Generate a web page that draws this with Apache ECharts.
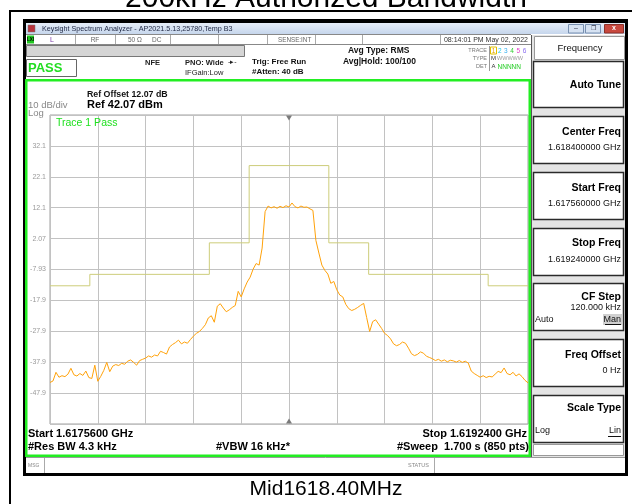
<!DOCTYPE html>
<html><head><meta charset="utf-8">
<script src="https://cdn.jsdelivr.net/npm/echarts@6/dist/echarts.min.js"></script>
<style>html,body{margin:0;padding:0;background:#fff}#c{width:632px;height:504px}</style>
</head><body><div id="c"></div>
<script>
// Frequency offsets from centre 1618.40 MHz, in kHz
const startKHz = -840, stopKHz = 840, sweepStepKHz = 10.5;
const refLevelDbm = 42.07;
const traceDbm = [
 -44.5,-44.0,-41.2,-42.8,-42.3,-42.6,-41.8,-39.9,-42.0,-42.4,
 -41.6,-42.2,-40.8,-42.9,-43.2,-38.9,-44.1,-42.5,-40.6,-38.0,
 -41.0,-39.2,-38.7,-39.0,-38.3,-38.6,-37.6,-37.2,-38.0,-38.9,
 -37.4,-37.0,-36.6,-35.9,-36.3,-35.6,-35.9,-34.4,-34.8,-35.3,
 -33.0,-32.2,-31.6,-30.8,-32.0,-31.4,-31.8,-30.6,-29.5,-28.6,
 -28.0,-27.0,-25.8,-23.6,-22.9,-25.0,-19.8,-19.0,-20.4,-21.6,
 -21.0,-20.2,-19.6,-15.0,-16.8,-14.2,-12.0,-10.4,-7.8,-6.0,
 -6.5,-1.0,10.8,12.6,12.0,12.4,11.9,12.5,12.1,12.7,
 12.3,13.6,12.4,12.0,12.6,12.2,12.3,11.7,11.2,1.5,
 -2.6,-6.5,-8.2,-9.4,-12.4,-11.8,-14.5,-16.2,-16.8,-19.2,
 -20.6,-21.2,-20.8,-20.2,-19.5,-18.9,-23.5,-28.0,-24.8,-24.2,
 -25.6,-27.0,-28.6,-29.3,-30.4,-32.0,-32.6,-32.2,-31.4,-31.8,
 -33.4,-35.2,-35.8,-35.4,-34.6,-35.0,-36.0,-36.4,-36.8,-37.4,
 -37.0,-37.6,-37.2,-37.8,-37.3,-37.5,-37.9,-37.4,-38.0,-37.6,
 -38.2,-40.8,-41.6,-42.2,-42.8,-42.3,-42.9,-42.5,-42.7,-41.8,
 -40.9,-41.3,-39.8,-41.6,-42.0,-41.2,-42.4,-41.7,-42.6,-43.8,
 -44.6];
const limitFreqKHz = [-840,-700,-280,-140,140,280,700,840];
const limitDbm = [-13.2,-9.5,0.7,25.7,0.7,-9.5,-13.2,-13.2];
const yTickLabels = ['','32.1','22.1','12.1','2.07','-7.93','-17.9','-27.9','-37.9','-47.9',''];

const FF = '"Liberation Sans", Arial, sans-serif';
function T(x, y, text, o) {
  o = o || {};
  return { type:'text', x:x, y:y, z:20, silent:true,
    style:{ text:text, fill:o.c||'#000', font:(o.w||'normal')+' '+(o.s||9)+'px '+(o.f||FF),
      align:o.a||'left', verticalAlign:o.v||'middle' } };
}
function R(x, y, w, h, fill, stroke, lw, z) {
  return { type:'rect', z:(z===undefined?-5:z), silent:true, shape:{x:x,y:y,width:w,height:h},
    style:{ fill:fill||'none', stroke:stroke||'none', lineWidth:lw||1 } };
}
function L(x1, y1, x2, y2, c, lw, z) {
  return { type:'line', z:(z===undefined?-4:z), silent:true, shape:{x1:x1,y1:y1,x2:x2,y2:y2},
    style:{ stroke:c, lineWidth:lw||1 } };
}

const els = [];
// document frame + title
els.push(T(326, -1.5, '200kHz Authorized Bandwidth', {s:30, a:'center', c:'#000'}));
els.push(R(9, 10, 623, 2, '#000', null, 1, 5));
els.push(R(9, 10, 2, 494, '#000', null, 1, 5));
els.push(T(326, 489, 'Mid1618.40MHz', {s:21, a:'center'}));
// window
els.push(R(23, 19, 605, 457, '#000', null, 1, -10));
els.push(R(26, 23, 599, 450, '#fff', null, 1, -9));
// title bar
els.push({ type:'rect', z:-8, silent:true, shape:{x:26,y:23,width:599,height:11},
  style:{ fill:{type:'linear',x:0,y:0,x2:0,y2:1,colorStops:[{offset:0,color:'#e6eef9'},{offset:1,color:'#c6d6ec'}]} } });
els.push(R(28, 25, 7, 7, '#b8323c', '#777', 0.5, -7));
els.push(T(42, 28.8, 'Keysight Spectrum Analyzer - AP2021.5.13,25780,Temp B3', {s:7.2, c:'#1c2440'}));
els.push(R(568.5, 24.5, 15, 8.5, '#d6e2f2', '#7890b0', 1, -7));
els.push(R(585.5, 24.5, 15, 8.5, '#d6e2f2', '#7890b0', 1, -7));
els.push(R(604.5, 24.5, 19, 8.5, '#c8483e', '#8a3028', 1, -7));
els.push(T(576, 28.5, '–', {s:7, a:'center', c:'#334'}));
els.push(T(593, 28.5, '❐', {s:6, a:'center', c:'#334'}));
els.push(T(614, 28.5, 'x', {s:7, a:'center', c:'#fff', w:'bold'}));
// status row
els.push(L(26, 34.5, 531, 34.5, '#888'));
els.push(L(26, 44.5, 531, 44.5, '#888'));
[75,115,170,218,267,315,362,440].forEach(x => els.push(L(x+0.5, 35, x+0.5, 44, '#aaa')));
els.push(R(27, 35.5, 7, 8, '#20c820', null, 1, -7));
els.push(T(30.5, 39.8, 'LXI', {s:4.5, a:'center', c:'#000', w:'bold'}));
els.push(T(50, 39.8, 'L', {s:7, c:'#7a3aa8'}));
els.push(T(95, 39.8, 'RF', {s:6.5, a:'center', c:'#666'}));
els.push(T(128, 39.8, '50 Ω', {s:6.5, c:'#666'}));
els.push(T(152, 39.8, 'DC', {s:6.5, c:'#666'}));
els.push(T(278, 39.8, 'SENSE:INT', {s:6.3, c:'#666'}));
els.push(T(528, 39.8, '08:14:01 PM May 02, 2022', {s:7, a:'right', c:'#333'}));
// row 3
els.push(R(26.5, 45.5, 218, 11, '#d5d5d5', '#777', 1, -7));
els.push(R(26.5, 59.5, 50, 17, '#fff', '#666', 1, -7));
els.push(T(28, 68.5, 'PASS', {s:13, w:'bold', c:'#22dd22'}));
els.push(T(145, 63, 'NFE', {s:7.5, w:'bold', c:'#222'}));
els.push(T(185, 62.5, 'PNO: Wide', {s:7.5, w:'bold', c:'#222'}));
els.push(T(228, 62, '-▸-', {s:7, c:'#222'}));
els.push(T(185, 72.5, 'IFGain:Low', {s:7.5, c:'#222'}));
els.push(T(252, 61.5, 'Trig: Free Run', {s:8, w:'bold', c:'#111'}));
els.push(T(252, 71.5, '#Atten: 40 dB', {s:8, w:'bold', c:'#111'}));
els.push(T(348, 51, 'Avg Type: RMS', {s:8.5, w:'bold', c:'#111'}));
els.push(T(343, 61.5, 'Avg|Hold: 100/100', {s:8.5, w:'bold', c:'#111'}));
els.push(T(487, 50.5, 'TRACE', {s:5.5, a:'right', c:'#777'}));
els.push(T(487, 58.5, 'TYPE', {s:5.5, a:'right', c:'#777'}));
els.push(T(487, 66.5, 'DET', {s:5.5, a:'right', c:'#777'}));
els.push(L(489.5, 46, 489.5, 71, '#999'));
els.push(R(490.5, 47, 6, 7, 'none', '#e0c000', 1, -6));
const trCols = ['#e6a000','#22c8e6','#36b0f0','#30cc30','#e040c8','#8a6cf0'];
['1','2','3','4','5','6'].forEach((d,i) => els.push(T(493.5+i*6.2, 50.8, d, {s:6.5, a:'center', c:trCols[i]})));
els.push(T(493.5, 58.8, 'M', {s:6, a:'center', c:'#333'}));
els.push(T(497, 58.8, 'WWWWW', {s:5.5, c:'#9a9a9a'}));
els.push(T(493.5, 66.8, 'A', {s:6, a:'center', c:'#333'}));
els.push(T(497.5, 66.8, 'NNNNN', {s:6.5, c:'#22cc22'}));
// graticule frame (green)
els.push(R(26.25, 80.25, 503.5, 375.5, 'none', '#22ee22', 2.5, 5));
els.push(T(87, 95, 'Ref Offset 12.07 dB', {s:8.8, w:'bold', c:'#111'}));
els.push(T(87, 105, 'Ref 42.07 dBm', {s:11, w:'bold', c:'#000'}));
els.push(T(28, 105.5, '10 dB/div', {s:9.5, c:'#888'}));
els.push(T(28, 113, 'Log', {s:9.5, c:'#888'}));
els.push(T(56, 123, 'Trace 1 Pass', {s:10.5, c:'#1ee01e'}));
els.push(T(28, 433.5, 'Start 1.6175600 GHz', {s:11, w:'bold'}));
els.push(T(28, 446.5, '#Res BW 4.3 kHz', {s:11, w:'bold'}));
els.push(T(216, 446.5, '#VBW 16 kHz*', {s:11, w:'bold'}));
els.push(T(527, 433.5, 'Stop 1.6192400 GHz', {s:11, w:'bold', a:'right'}));
els.push(T(529, 446.5, '#Sweep  1.700 s (850 pts)', {s:11, w:'bold', a:'right'}));
// msg row
els.push(L(26, 457.5, 625, 457.5, '#999'));
els.push(L(44.5, 458, 44.5, 473, '#aaa'));
els.push(L(434.5, 458, 434.5, 473, '#aaa'));
els.push(T(28, 465.5, 'MSG', {s:5, c:'#888'}));
els.push(T(408, 465.5, 'STATUS', {s:5.5, c:'#888'}));
// right softkey panel
els.push(R(531, 35, 94, 422, '#e4e4e4', null, 1, -7));
els.push(L(531.5, 35, 531.5, 457, '#555'));
els.push(R(534.5, 36.5, 90, 23, '#fff', '#999', 1, -6));
els.push(T(580, 48, 'Frequency', {s:9.5, a:'center', c:'#111'}));
function key(top, h, title, ty, value, vy) {
  els.push(R(533.5, top+0.5, 90, h, '#fff', '#2a2a2a', 1.5, -6));
  els.push(T(621, ty, title, {s:10.5, w:'bold', a:'right'}));
  if (value) els.push(T(621, vy, value, {s:9, a:'right', c:'#111'}));
}
key(61, 46, 'Auto Tune', 85);
key(116, 47, 'Center Freq', 132, '1.618400000 GHz', 148);
key(172, 47, 'Start Freq', 188, '1.617560000 GHz', 204);
key(228, 47, 'Stop Freq', 243.5, '1.619240000 GHz', 259.5);
key(283, 47, 'CF Step', 297, '120.000 kHz', 308);
els.push(T(535, 319.5, 'Auto', {s:9, c:'#111'}));
els.push(R(603, 314, 19, 11, '#d0d0d0', null, 1, -5));
els.push(T(621, 319.5, 'Man', {s:9, a:'right', c:'#111'}));
els.push(L(605, 324.5, 621, 324.5, '#111', 1, 20));
key(339, 47, 'Freq Offset', 355, '0 Hz', 371);
key(395, 47, 'Scale Type', 408);
els.push(T(535, 431, 'Log', {s:9, c:'#111'}));
els.push(T(621, 431, 'Lin', {s:9, a:'right', c:'#111'}));
els.push(L(608, 436.5, 621, 436.5, '#111', 1, 20));
els.push(R(533.5, 444.5, 90, 11, '#fff', '#999', 1, -6));

const chart = echarts.init(document.getElementById('c'), null, {renderer:'canvas'});
chart.setOption({
  animation:false,
  backgroundColor:'#fff',
  grid:{left:50, top:115, width:478, height:309, show:true, backgroundColor:'#fff', borderColor:'#a0a0a0', borderWidth:1},
  xAxis:{type:'value', min:startKHz, max:stopKHz, interval:168,
    axisLine:{show:false}, axisTick:{show:false}, axisLabel:{show:false},
    splitLine:{show:true, lineStyle:{color:'#c2c2c2', width:1}}},
  yAxis:{type:'value', min:-100, max:0, interval:10,
    axisLine:{show:false}, axisTick:{show:false},
    axisLabel:{color:'#9a9a9a', fontSize:7, margin:4, fontFamily:FF,
      formatter:v => yTickLabels[Math.round(-v/10)]},
    splitLine:{show:true, lineStyle:{color:'#c2c2c2', width:1}}},
  series:[
    {type:'line', name:'Limit', step:'end', showSymbol:false, silent:true, z:3,
     lineStyle:{color:'#cdcd7a', width:1},
     data:limitFreqKHz.map((f,i)=>[f, limitDbm[i]-refLevelDbm])},
    {type:'line', name:'Trace 1', showSymbol:false, silent:true, z:4,
     lineStyle:{color:'#ffa20a', width:1},
     data:traceDbm.map((d,i)=>[startKHz + i*sweepStepKHz, d-refLevelDbm]),
     markPoint:{silent:true, label:{show:false}, itemStyle:{color:'#7a7a7a'},
       data:[{coord:[0,0], symbol:'triangle', symbolRotate:180, symbolSize:[6,5], symbolOffset:[0,3]},
             {coord:[0,-100], symbol:'triangle', symbolSize:[6,5], symbolOffset:[0,-3]}]}}
  ],
  graphic:{elements:els}
});
</script></body></html>
